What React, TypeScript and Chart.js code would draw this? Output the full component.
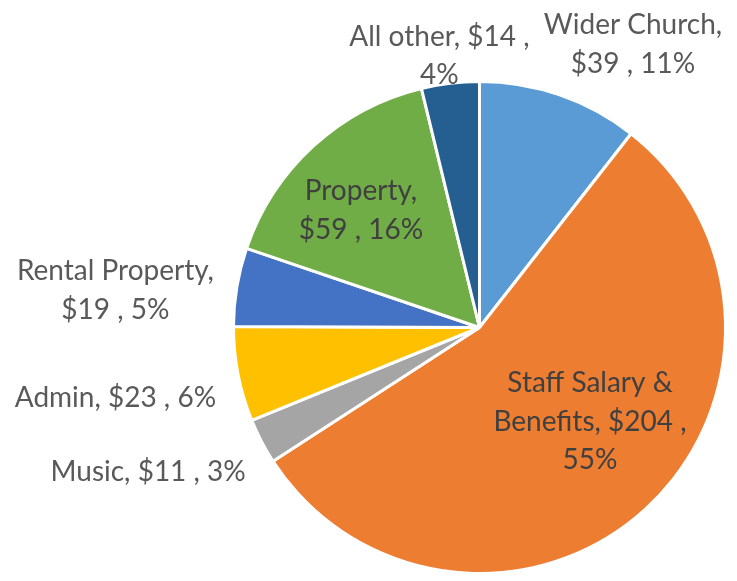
import React, { useEffect, useRef } from "react";
import { Chart, registerables } from "chart.js";

Chart.register(...registerables);

// ---- data ----
const categories = [
  "Wider Church",
  "Staff Salary & Benefits",
  "Music",
  "Admin",
  "Rental Property",
  "Property",
  "All other",
];
const amounts = [39, 204, 11, 23, 19, 59, 14];
const sliceColors = ["#5B9BD5", "#ED7D31", "#A5A5A5", "#FFC000", "#4472C4", "#70AD47", "#255E91"];

// ---- label layout (tokens per line, and offset of the label block from pie centre in radius units) ----
const labelBreaks = [[2, 3], [3, 3, 1], [4], [4], [2, 3], [1, 3], [4, 1]];
const labelOffsets: [number, number][] = [
  [0.624, -1.151],
  [0.449, 0.384],
  [-1.347, 0.588],
  [-1.48, 0.286],
  [-1.48, -0.151],
  [-0.482, -0.476],
  [-0.163, -1.104],
];
const labelInside = [false, true, false, false, false, true, false];

const FONT_FAMILY = "Lato, 'Liberation Sans', Arial, sans-serif";
const FONT_SIZE = 28;
const LINE_HEIGHT = 38.5;

function buildLines(i: number, total: number): string[] {
  const pct = Math.round((amounts[i] / total) * 100);
  const tokens = `${categories[i]}, $${amounts[i]} , ${pct}%`.split(" ");
  const lines: string[] = [];
  let k = 0;
  for (const n of labelBreaks[i]) {
    lines.push(tokens.slice(k, k + n).join(" "));
    k += n;
  }
  return lines;
}

const labelPlugin = {
  id: "sliceLabels",
  afterDraw(chart: any) {
    const meta = chart.getDatasetMeta(0);
    const ctx = chart.ctx;
    const total = amounts.reduce((a, b) => a + b, 0);
    ctx.save();
    ctx.font = `${FONT_SIZE}px ${FONT_FAMILY}`;
    ctx.textAlign = "center";
    ctx.textBaseline = "middle";
    meta.data.forEach((arc: any, i: number) => {
      const { x, y, outerRadius } = arc.getProps(["x", "y", "outerRadius"], true);
      const cx = x + labelOffsets[i][0] * outerRadius;
      const cy = y + labelOffsets[i][1] * outerRadius;
      const lines = buildLines(i, total);
      ctx.fillStyle = labelInside[i] ? "#404040" : "#595959";
      const startY = cy - ((lines.length - 1) * LINE_HEIGHT) / 2;
      lines.forEach((ln, j) => ctx.fillText(ln, cx, startY + j * LINE_HEIGHT));
    });
    ctx.restore();
  },
};

export default function App() {
  const ref = useRef<HTMLCanvasElement | null>(null);
  useEffect(() => {
    if (!ref.current) return;
    const chart = new Chart(ref.current, {
      type: "pie",
      data: {
        labels: categories,
        datasets: [
          {
            data: amounts,
            backgroundColor: sliceColors,
            borderColor: "#FFFFFF",
            borderWidth: 3,
          },
        ],
      },
      options: {
        responsive: false,
        animation: false,
        layout: { padding: { left: 231, right: 9, top: 80, bottom: 6 } },
        plugins: {
          legend: { display: false },
          tooltip: { enabled: false },
        },
      },
      plugins: [labelPlugin],
    });
    return () => chart.destroy();
  }, []);
  return (
    <div style={{ position: "absolute", left: 0, top: 0, width: 737, height: 581, background: "#fff" }}>
      <canvas ref={ref} width={737} height={581} />
    </div>
  );
}
